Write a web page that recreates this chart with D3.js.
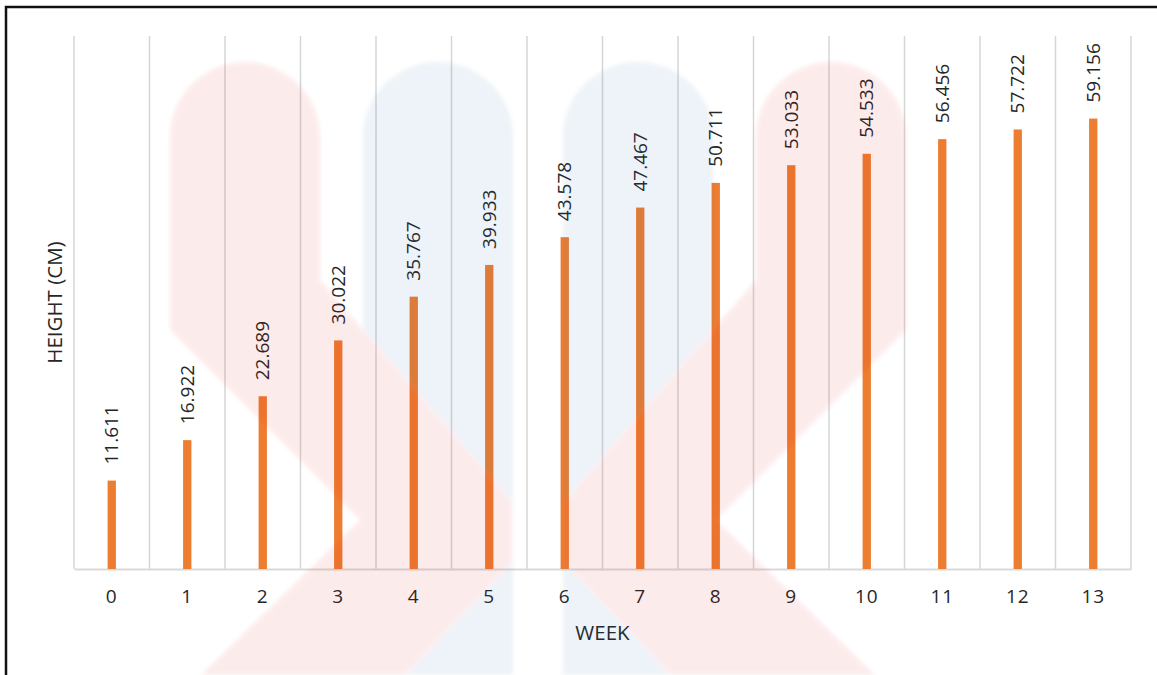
<!DOCTYPE html>
<html>
<head>
<meta charset="utf-8">
<script src="https://cdn.jsdelivr.net/npm/d3@7"></script>
<style>
  html, body { margin: 0; padding: 0; background: #fff; }
  svg { display: block; }
  text { font-family: "Open Sans", "Noto Sans", sans-serif; fill: #262626; }
</style>
</head>
<body>
<svg id="chart" width="1157" height="675"></svg>
<script>
// Weekly plant height
const weeks = ["0", "1", "2", "3", "4", "5", "6", "7", "8", "9", "10", "11", "12", "13"];
const heights = [11.611, 16.922, 22.689, 30.022, 35.767, 39.933, 43.578, 47.467, 50.711, 53.033, 54.533, 56.456, 57.722, 59.156];
const heightDomain = [0, 70];
const xTitle = "WEEK";
const yTitle = "HEIGHT (CM)";

const W = 1157, H = 675;
const plot = { left: 74, right: 1131, top: 36, bottom: 569 };

const svg = d3.select("#chart");

const x = d3.scaleBand().domain(weeks).range([plot.left, plot.right]).padding(0);
const y = d3.scaleLinear().domain(heightDomain).range([plot.bottom, plot.top]);

// vertical gridlines at category boundaries
const bounds = weeks.map(w => x(w)).concat([x(weeks[weeks.length - 1]) + x.bandwidth()]);
svg.append("g")
  .selectAll("line")
  .data(bounds)
  .join("line")
  .attr("x1", d => d).attr("x2", d => d)
  .attr("y1", plot.top).attr("y2", plot.bottom)
  .attr("stroke", "#d6d6d6")
  .attr("stroke-width", 1.5);

// category axis
const xAxis = svg.append("g")
  .attr("transform", `translate(0,${plot.bottom})`)
  .call(d3.axisBottom(x).tickSize(0));
xAxis.select(".domain")
  .attr("stroke", "#d9d9d9")
  .attr("stroke-width", 2.2);
xAxis.selectAll("text")
  .attr("y", 34)
  .attr("dy", 0)
  .style("font-size", "19px")
  .style("letter-spacing", "1px")
  .style("font-family", "'Open Sans', sans-serif")
  .attr("fill", "#262626");

// bars
const barW = x.bandwidth() * 0.11;
svg.append("g")
  .selectAll("rect")
  .data(heights)
  .join("rect")
  .attr("x", (d, i) => x(weeks[i]) + x.bandwidth() / 2 - barW / 2)
  .attr("y", d => y(d))
  .attr("width", barW)
  .attr("height", d => y(0) - y(d))
  .attr("fill", "#ED7D31");

// value labels, rotated above each bar
svg.append("g")
  .selectAll("text")
  .data(heights)
  .join("text")
  .attr("transform", (d, i) =>
    `translate(${x(weeks[i]) + x.bandwidth() / 2 + 6.5},${y(d) - 16}) rotate(-90)`)
  .attr("text-anchor", "start")
  .style("font-size", "19px")
  .text(d => d3.format(".3f")(d));

// axis titles
svg.append("text")
  .attr("x", (plot.left + plot.right) / 2)
  .attr("y", 640)
  .attr("text-anchor", "middle")
  .style("font-size", "20.5px")
  .text(xTitle);

svg.append("text")
  .attr("transform", `translate(62,${(plot.top + plot.bottom) / 2}) rotate(-90)`)
  .attr("text-anchor", "middle")
  .style("font-size", "20.5px")
  .text(yTitle);

// faint logo overlay: two blue pills and two red chevrons, composited then faded
const defs = svg.append("defs");
defs.append("filter").attr("id", "soft")
  .attr("x", "-10%").attr("y", "-10%").attr("width", "120%").attr("height", "120%")
  .append("feGaussianBlur").attr("stdDeviation", 2);

const logo = svg.append("g").attr("filter", "url(#soft)").attr("opacity", 0.08);
const pill = (x0, x1) => {
  const r = (x1 - x0) / 2, cy = 62 + r;
  return `M${x0},${H} L${x0},${cy} A${r},${r} 0 0 1 ${x1},${cy} L${x1},${H} Z`;
};
logo.append("path").attr("d", pill(363, 513)).attr("fill", "rgb(40,110,170)");
logo.append("path").attr("d", pill(563, 713)).attr("fill", "rgb(40,110,170)");

// left chevron outline (after the rounded top), mirrored for the right one
const chevronPts = [[320, 280], [512, 502], [512, 562], [405, 675], [201, 675], [360, 520], [170, 330]];
const axisX = 1076;
const chevron = (mirror) => {
  const f = p => mirror ? [axisX - p[0], p[1]] : p;
  const a = f([170, 137]), b = f([320, 137]);
  const sweep = mirror ? 0 : 1;
  let d = `M${a[0]},${a[1]} A75,75 0 0 ${sweep} ${b[0]},${b[1]}`;
  chevronPts.forEach(p => { const q = f(p); d += ` L${q[0]},${q[1]}`; });
  return d + " Z";
};
logo.append("path").attr("d", chevron(false)).attr("fill", "rgb(230,17,17)");
logo.append("path").attr("d", chevron(true)).attr("fill", "rgb(230,17,17)");

// outer frame
svg.append("path")
  .attr("d", `M6,${H} L6,7 L${W},7`)
  .attr("fill", "none")
  .attr("stroke", "#111")
  .attr("stroke-width", 2.5);
</script>
</body>
</html>
